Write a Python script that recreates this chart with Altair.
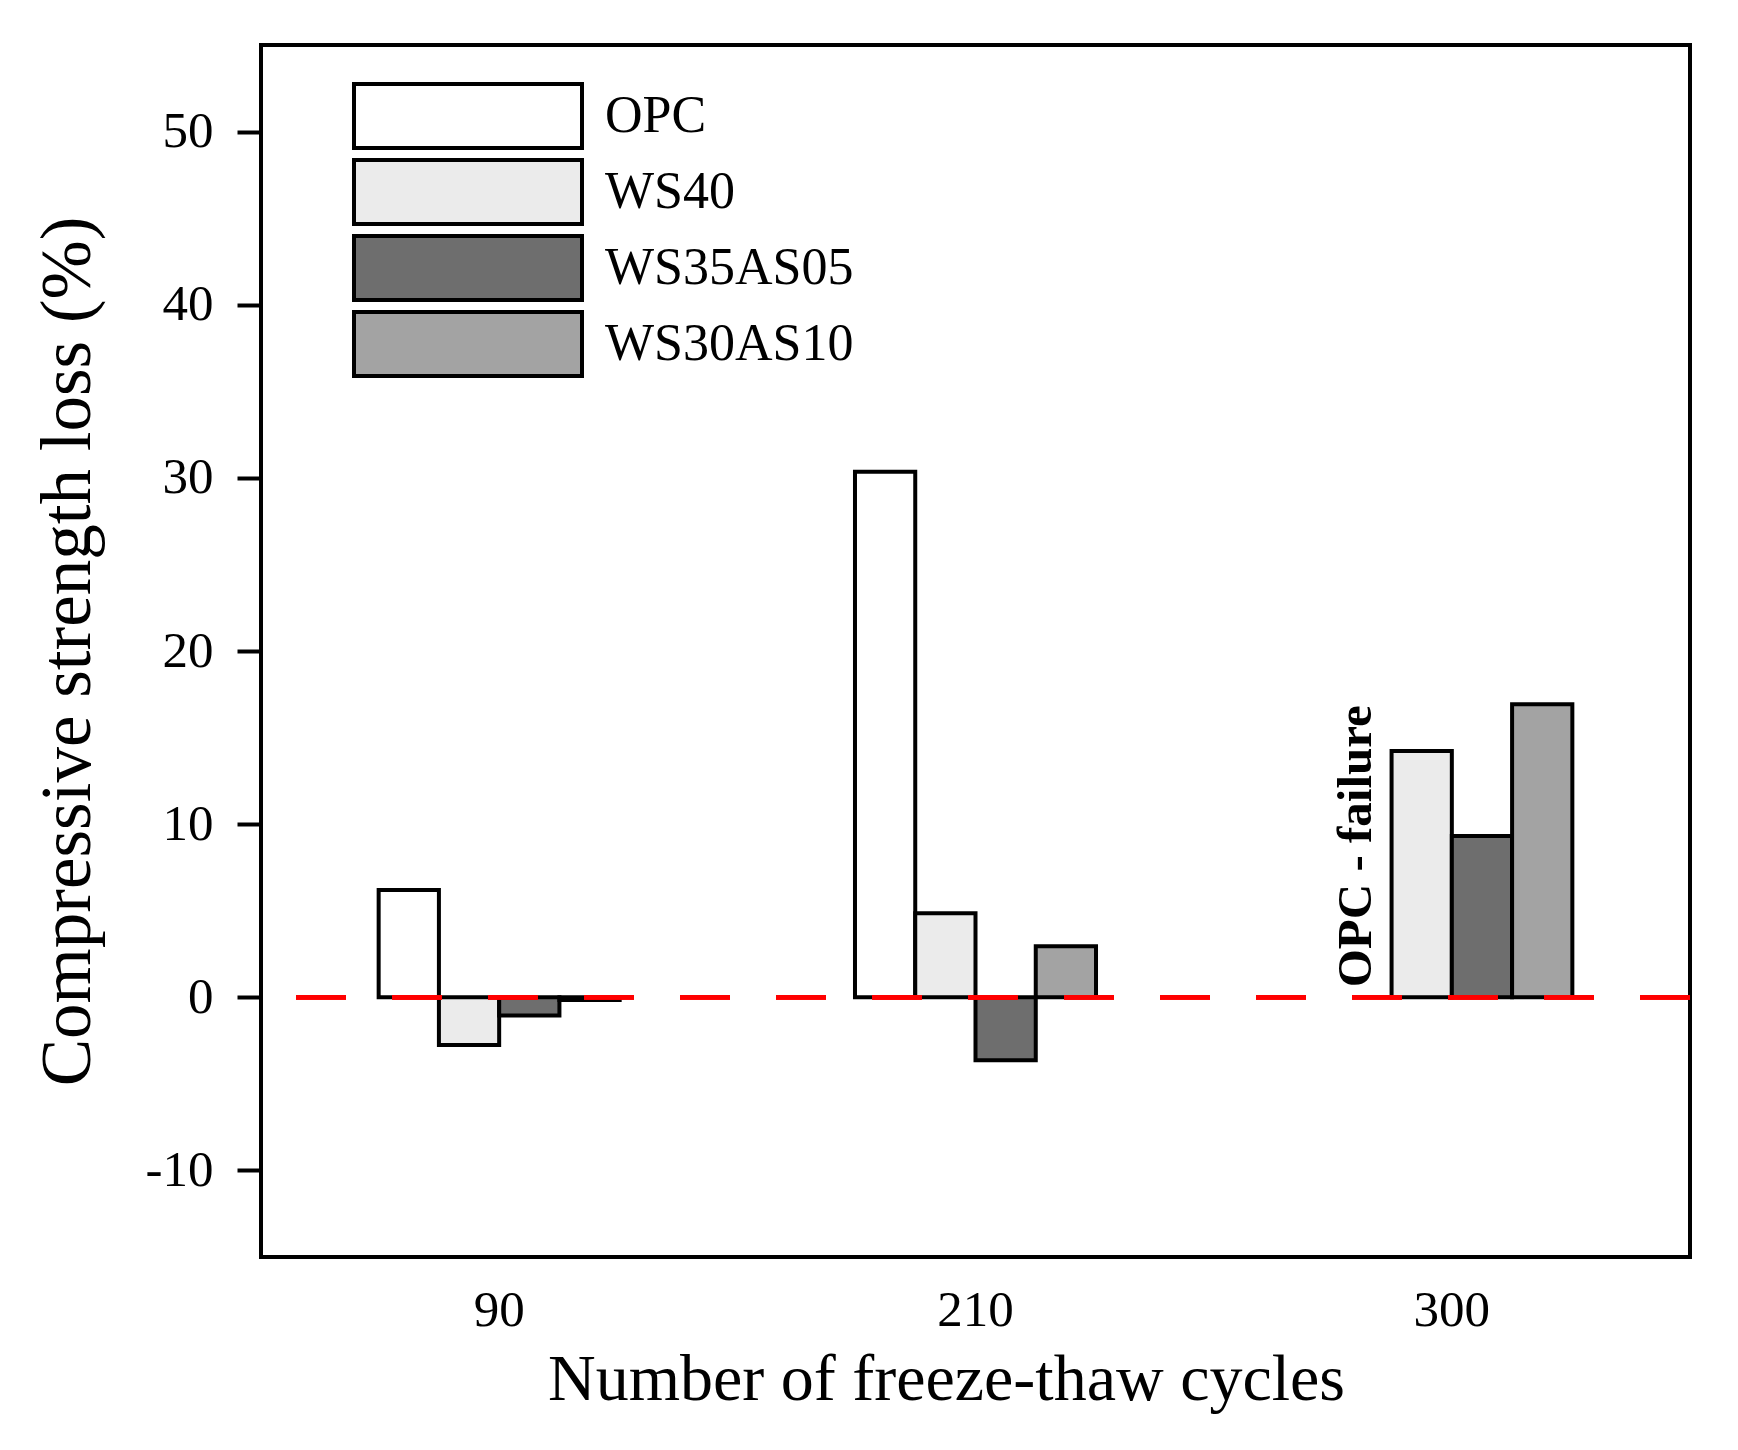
import altair as alt
import pandas as pd

# strength loss (%); OPC failed before 300 cycles
cycles = ["90", "210", "300"]
materials = ["OPC", "WS40", "WS35AS05", "WS30AS10"]

loss_90 = [6.2, -2.75, -1.05, -0.15]
loss_210 = [30.35, 4.85, -3.63, 2.95]
loss_300 = [None, 14.23, 9.31, 16.93]

fills = ["#ffffff", "#ebebeb", "#6e6e6e", "#a3a3a3"]

FONT = "Liberation Serif"

rows = []
for cyc, values in zip(cycles, [loss_90, loss_210, loss_300]):
    for mat, val in zip(materials, values):
        if val is not None:
            rows.append({"cycles": cyc, "material": mat, "loss": val})
data = pd.DataFrame(rows)

note = pd.DataFrame([{"cycles": "300", "material": "OPC", "loss": 0, "text": "OPC - failure"}])

x = alt.X(
    "cycles:N",
    sort=cycles,
    scale=alt.Scale(paddingInner=0.494, paddingOuter=0.247),
    axis=alt.Axis(
        labelAngle=0,
        ticks=False,
        domain=False,
        labelFont=FONT,
        labelFontSize=51,
        labelColor="black",
        labelPadding=28,
        title="Number of freeze-thaw cycles",
        titleFont=FONT,
        titleFontSize=66,
        titleFontWeight="normal",
        titleColor="black",
        titleX=685,
        titleY=142,
        titleBaseline="alphabetic",
    ),
)
x_off = alt.XOffset("material:N", sort=materials, scale=alt.Scale(paddingInner=0, paddingOuter=0))

y = alt.Y(
    "loss:Q",
    scale=alt.Scale(domain=[-15, 55], nice=False, zero=False),
    axis=alt.Axis(
        values=[-10, 0, 10, 20, 30, 40, 50],
        labelExpr="datum.value + ''",
        grid=False,
        domain=False,
        tickSize=24,
        tickWidth=4,
        tickColor="black",
        labelFont=FONT,
        labelFontSize=51,
        labelColor="black",
        labelPadding=24,
        title="Compressive strength loss (%)",
        titleFont=FONT,
        titleFontSize=71,
        titleFontWeight="normal",
        titleColor="black",
        titleX=-172,
        titleY=606,
        titleBaseline="alphabetic",
    ),
)

bars = alt.Chart(data).mark_bar(stroke="black", strokeWidth=4, opacity=1).encode(
    x=x,
    xOffset=x_off,
    y=y,
    color=alt.Color(
        "material:N",
        sort=materials,
        scale=alt.Scale(domain=materials, range=fills),
        title=None,
        legend=alt.Legend(
            orient="none",
            legendX=91,
            legendY=37,
            padding=0,
            symbolType="M-1,-0.2807L1,-0.2807L1,0.2807L-1,0.2807Z",
            symbolSize=51984,
            symbolStrokeColor="black",
            symbolStrokeWidth=4,
            symbolOpacity=1,
            clipHeight=68,
            rowPadding=8,
            labelFont=FONT,
            labelFontSize=52,
            labelColor="black",
            labelOffset=21,
            labelLimit=400,
        ),
    ),
)

zero_line = alt.Chart(data).mark_rule(color="#ff0000", strokeWidth=4, strokeDash=[50, 46]).encode(
    y=alt.datum(0)
)

failure = alt.Chart(note).mark_text(
    angle=270,
    align="left",
    baseline="middle",
    dx=10,
    dy=-5,
    font=FONT,
    fontSize=49,
    fontWeight="bold",
    color="black",
).encode(x=x, xOffset=x_off, y=alt.Y("loss:Q"), text="text:N")

chart = (
    alt.layer(bars, zero_line, failure)
    .properties(
        width=1429,
        height=1212,
        autosize=alt.AutoSizeParams(type="none"),
        padding={"left": 253, "top": 37, "right": 40, "bottom": 185},
    )
    .configure_view(stroke="black", strokeWidth=4)
)

chart.save("out.html", embed_options={"renderer": "svg", "actions": False})
